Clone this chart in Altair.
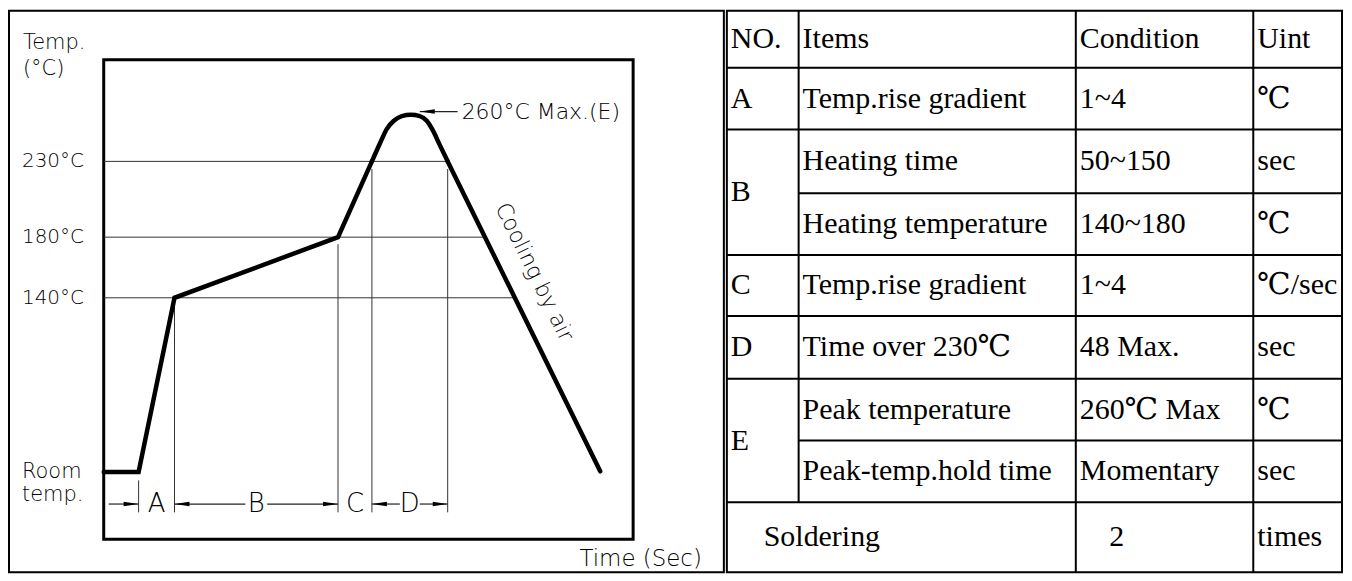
import altair as alt
import numpy as np
import pandas as pd

# ---------------- data ----------------
# reflow profile: time (s, counted from the frame's left edge) and temperature (°C)
profile_time = [0, 35, 71, 235, 269]
profile_temp = [25, 25, 140, 180, 230]
peak_time = [269, 277, 284, 291, 299, 308, 317, 324, 330, 337, 345]
peak_temps = [230, 241.8, 251.5, 256.8, 259.9, 260.7, 259.9, 256.8, 250.6, 240.9, 230]
cool_time = [345, 498]
cool_temp = [230, 25.5]

level_temps = [230, 180, 140]
level_labels = ["230°C", "180°C", "140°C"]
room_temp = 25
room_label = ["Room", "temp."]
axis_title = ["Temp.", "(°C)"]
time_title = "Time (Sec)"
peak_temp = 262.9
peak_label = "260°C Max.(E)"
cooling_label = "Cooling by air"

# zone boundaries along time: A start, A|B, B|C, C|D, D end
zone_bounds = [35, 71, 235, 269, 345]
zone_names = ["A", "B", "C", "D"]
zone_line_tops = [19.5, 140, 175.4, 225, 225]

# table
tbl_header = ["NO.", "Items", "Condition", "Uint"]
tbl_groups = ["A", "B", "C", "D", "E"]
tbl_group_rows = [1, 2, 1, 1, 2]
tbl_items = ["Temp.rise gradient", "Heating time", "Heating temperature",
             "Temp.rise gradient", "Time over 230℃", "Peak temperature",
             "Peak-temp.hold time"]
tbl_condition = ["1~4", "50~150", "140~180", "1~4", "48 Max.", "260℃  Max", "Momentary"]
tbl_unit = ["℃", "sec", "℃", "℃/sec", "sec", "℃", "sec"]
tbl_footer = ["Soldering", "2", "times"]

# ---------------- layout ----------------
L_W, H = 717, 563
R_W = 617
FRAME_T = (0, 531)
FRAME_Y = (-19.3, 297.1)
DIM_Y = 3.9
DIM_BOTTOM = -1.6
CAD = "DejaVu Sans"
SERIF = "Liberation Serif, DejaVu Serif"
INK = "black"

TX = alt.Scale(domain=[-95, 622], nice=False, zero=False)
TY = alt.Scale(domain=[-41.05, 329.34], nice=False, zero=False)


def X(f):
    return alt.X(f, type="quantitative", scale=TX, axis=None)


def Y(f):
    return alt.Y(f, type="quantitative", scale=TY, axis=None)


# frame
frame_df = pd.DataFrame({"t0": [FRAME_T[0]], "t1": [FRAME_T[1]],
                         "y0": [FRAME_Y[0]], "y1": [FRAME_Y[1]]})
frame = alt.Chart(frame_df).mark_rect(fillOpacity=0, stroke="black", strokeWidth=3).encode(
    x=X("t0"), x2="t1", y=Y("y0"), y2="y1")

# level lines, ending where they meet the cooling slope
level_end = [float(np.interp(v, cool_temp[::-1], cool_time[::-1])) for v in level_temps]
lvl_df = pd.DataFrame({"t0": FRAME_T[0], "t1": level_end, "y": level_temps})
levels = alt.Chart(lvl_df).mark_rule(color="#333", strokeWidth=1).encode(
    x=X("t0"), x2="t1", y=Y("y"))

# zone boundary lines
vl_df = pd.DataFrame({"t": zone_bounds, "y0": zone_line_tops, "y1": DIM_BOTTOM})
vlines = alt.Chart(vl_df).mark_rule(color="#333", strokeWidth=1).encode(
    x=X("t"), y=Y("y0"), y2="y1")

# dimension lines
mid = [(zone_bounds[i] + zone_bounds[i + 1]) / 2 for i in range(4)]
seg = [
    (5, zone_bounds[0], DIM_Y),
    (zone_bounds[1], mid[1] - 11, DIM_Y), (mid[1] + 11, zone_bounds[2], DIM_Y),
    (zone_bounds[3], mid[3] - 10, DIM_Y), (mid[3] + 10, zone_bounds[4], DIM_Y),
    (317, 355, peak_temp),
]
seg_df = pd.DataFrame(seg, columns=["t0", "t1", "y"])
segs = alt.Chart(seg_df).mark_rule(color="#222", strokeWidth=1.2).encode(
    x=X("t0"), x2="t1", y=Y("y"))

PATH_R = "M0,0L-1,-0.15L-1,0.15Z"
PATH_L = "M0,0L1,-0.15L1,0.15Z"
ar_r = pd.DataFrame({"t": [zone_bounds[0], zone_bounds[2], zone_bounds[4]], "y": DIM_Y})
ar_l = pd.DataFrame({"t": [zone_bounds[1], zone_bounds[3], 317], "y": [DIM_Y, DIM_Y, peak_temp]})
arrows_r = alt.Chart(ar_r).mark_point(shape=PATH_R, size=900, filled=True, color="black",
                                      opacity=1, strokeWidth=0).encode(x=X("t"), y=Y("y"))
arrows_l = alt.Chart(ar_l).mark_point(shape=PATH_L, size=900, filled=True, color="black",
                                      opacity=1, strokeWidth=0).encode(x=X("t"), y=Y("y"))

# profile
def pline(ts, ys, interp):
    d = pd.DataFrame({"t": ts, "y": ys, "o": range(len(ts))})
    return alt.Chart(d).mark_line(color="black", strokeWidth=4.5, strokeCap="round",
                                  interpolate=interp).encode(x=X("t"), y=Y("y"), order="o")


profile = pline(profile_time, profile_temp, "linear")
cap = pline(peak_time, peak_temps, "monotone")
cooling = pline(cool_time, cool_temp, "linear")

# texts
LBL_T = -82
lbl_df = pd.DataFrame({"t": LBL_T, "y": level_temps, "s": level_labels})
lbls = alt.Chart(lbl_df).mark_text(align="left", baseline="middle", font=CAD, fontSize=20,
                                   fontWeight=200, color=INK).encode(
    x=X("t"), y=Y("y"), text="s")

one = pd.DataFrame({"k": [0]})


def txt(t, y, s, **kw):
    base = dict(font=CAD, fontWeight=200, color=INK)
    base.update(kw)
    return alt.Chart(one).mark_text(**base).encode(
        x=X("t"), y=Y("y"), text=alt.value(s)
    ).transform_calculate(t=str(t), y=str(y))


room = txt(LBL_T, room_temp, room_label, align="left", baseline="middle", fontSize=21, lineHeight=23)
ytitle = txt(LBL_T + 1, 304.0, axis_title, align="left", baseline="alphabetic", fontSize=21, lineHeight=26)
xtitle = txt(600, -37.1, time_title, align="right", baseline="alphabetic", fontSize=23)
peak = txt(359, peak_temp, peak_label, align="left", baseline="middle", fontSize=22)
cool = txt(432, 157, cooling_label, align="center", baseline="middle", fontSize=22, angle=64)

zl_df = pd.DataFrame({"t": mid, "y": DIM_Y, "s": zone_names})
zlbl = alt.Chart(zl_df).mark_text(align="center", baseline="middle", font=CAD, fontSize=26,
                                  fontWeight=200, color=INK).encode(
    x=X("t"), y=Y("y"), text="s")

left = alt.layer(frame, levels, vlines, segs, arrows_r, arrows_l, profile, cap, cooling,
                 lbls, room, ytitle, xtitle, peak, cool, zlbl).properties(width=L_W, height=H)

# ---------------- table ----------------
COL = [0, 72, 350, 528, R_W]
ROW = [0, 57, 119, 183, 245, 306, 369, 431, 493, H]
PAD = 4
SX = alt.Scale(domain=[0, R_W], nice=False, zero=False)
SY = alt.Scale(domain=[0, H], nice=False, zero=False, reverse=True)

cells = []
rc = lambda r0, r1: (ROW[r0] + ROW[r1]) / 2
for c, s in enumerate(tbl_header):
    cells.append((COL[c] + PAD, rc(0, 1), s, "left"))
for i in range(len(tbl_items)):
    r = i + 1
    cells.append((COL[1] + PAD, rc(r, r + 1), tbl_items[i], "left"))
    cells.append((COL[2] + PAD, rc(r, r + 1), tbl_condition[i], "left"))
    cells.append((COL[3] + PAD, rc(r, r + 1), tbl_unit[i], "left"))
r = 1
for g, n in zip(tbl_groups, tbl_group_rows):
    cells.append((COL[0] + PAD, rc(r, r + n), g, "left"))
    r += n
cells.append((37, rc(8, 9), tbl_footer[0], "left"))
cells.append((391, rc(8, 9), tbl_footer[1], "center"))
cells.append((COL[3] + PAD, rc(8, 9), tbl_footer[2], "left"))
cell_df = pd.DataFrame(cells, columns=["x", "y", "s", "a"])


def cell_text(df, align):
    return alt.Chart(df).mark_text(align=align, baseline="middle", font=SERIF, fontSize=30,
                                   color="black").encode(
        x=alt.X("x:Q", scale=SX, axis=None), y=alt.Y("y:Q", scale=SY, axis=None), text="s")


hl = [(0, R_W, ROW[k]) for k in (1, 2, 4, 5, 6, 8)] + [(COL[1], R_W, ROW[k]) for k in (3, 7)]
hl_df = pd.DataFrame(hl, columns=["x0", "x1", "y"])
vl = [(COL[1], 0, ROW[8]), (COL[2], 0, H), (COL[3], 0, H)]
vt_df = pd.DataFrame(vl, columns=["x", "y0", "y1"])
t_h = alt.Chart(hl_df).mark_rule(color="black", strokeWidth=2).encode(
    x=alt.X("x0:Q", scale=SX, axis=None), x2="x1", y=alt.Y("y:Q", scale=SY, axis=None))
t_v = alt.Chart(vt_df).mark_rule(color="black", strokeWidth=2).encode(
    x=alt.X("x:Q", scale=SX, axis=None), y=alt.Y("y0:Q", scale=SY, axis=None), y2="y1")

right = alt.layer(t_h, t_v,
                  cell_text(cell_df[cell_df.a == "left"], "left"),
                  cell_text(cell_df[cell_df.a == "center"], "center")).properties(width=R_W, height=H)

chart = alt.hconcat(left, right, spacing=0).properties(padding=0, background="white").configure_view(
    stroke="black", strokeWidth=2)

chart.save("out.html", embed_options={"renderer": "svg", "actions": False})
